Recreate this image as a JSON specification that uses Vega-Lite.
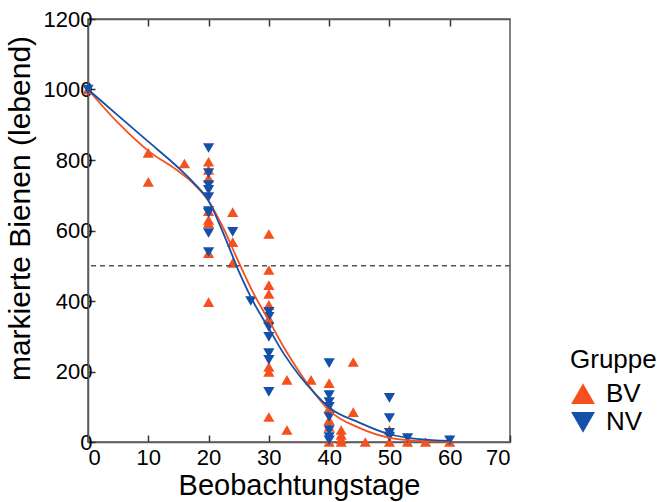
{
  "$schema": "https://vega.github.io/schema/vega-lite/v6.json",
  "autosize": "none",
  "width": 422,
  "height": 423,
  "padding": {"left": 88, "top": 19, "right": 161, "bottom": 60},
  "background": "white",
  "config": {
    "font": "Liberation Sans",
    "view": {"stroke": "#5a5a5a", "strokeWidth": 1.5},
    "axis": {"grid": false, "domainColor": "#5a5a5a", "domainWidth": 1.5, "tickColor": "#333", "tickWidth": 1.5, "labelFont": "Liberation Sans", "titleFont": "Liberation Sans", "labelColor": "#000", "titleColor": "#000", "titleFontWeight": "normal"}
  },
  "datasets": {
    "pts": [
      {"tag": 0, "n": 1000, "Gruppe": "BV"},
      {"tag": 10, "n": 820, "Gruppe": "BV"},
      {"tag": 10, "n": 738, "Gruppe": "BV"},
      {"tag": 16, "n": 790, "Gruppe": "BV"},
      {"tag": 20, "n": 795, "Gruppe": "BV"},
      {"tag": 20, "n": 772, "Gruppe": "BV"},
      {"tag": 20, "n": 749, "Gruppe": "BV"},
      {"tag": 20, "n": 655, "Gruppe": "BV"},
      {"tag": 20, "n": 630, "Gruppe": "BV"},
      {"tag": 20, "n": 621, "Gruppe": "BV"},
      {"tag": 20, "n": 536, "Gruppe": "BV"},
      {"tag": 20, "n": 397, "Gruppe": "BV"},
      {"tag": 24, "n": 652, "Gruppe": "BV"},
      {"tag": 24, "n": 567, "Gruppe": "BV"},
      {"tag": 24, "n": 508, "Gruppe": "BV"},
      {"tag": 30, "n": 590, "Gruppe": "BV"},
      {"tag": 30, "n": 488, "Gruppe": "BV"},
      {"tag": 30, "n": 445, "Gruppe": "BV"},
      {"tag": 30, "n": 420, "Gruppe": "BV"},
      {"tag": 30, "n": 389, "Gruppe": "BV"},
      {"tag": 30, "n": 350, "Gruppe": "BV"},
      {"tag": 30, "n": 213, "Gruppe": "BV"},
      {"tag": 30, "n": 199, "Gruppe": "BV"},
      {"tag": 30, "n": 71, "Gruppe": "BV"},
      {"tag": 33, "n": 176, "Gruppe": "BV"},
      {"tag": 33, "n": 34, "Gruppe": "BV"},
      {"tag": 37, "n": 176, "Gruppe": "BV"},
      {"tag": 40, "n": 167, "Gruppe": "BV"},
      {"tag": 40, "n": 96, "Gruppe": "BV"},
      {"tag": 40, "n": 62, "Gruppe": "BV"},
      {"tag": 40, "n": 43, "Gruppe": "BV"},
      {"tag": 40, "n": 0, "Gruppe": "BV"},
      {"tag": 42, "n": 34, "Gruppe": "BV"},
      {"tag": 42, "n": 20, "Gruppe": "BV"},
      {"tag": 42, "n": 8, "Gruppe": "BV"},
      {"tag": 42, "n": 0, "Gruppe": "BV"},
      {"tag": 44, "n": 227, "Gruppe": "BV"},
      {"tag": 44, "n": 85, "Gruppe": "BV"},
      {"tag": 46, "n": 0, "Gruppe": "BV"},
      {"tag": 50, "n": 34, "Gruppe": "BV"},
      {"tag": 50, "n": 0, "Gruppe": "BV"},
      {"tag": 53, "n": 0, "Gruppe": "BV"},
      {"tag": 56, "n": 0, "Gruppe": "BV"},
      {"tag": 60, "n": 0, "Gruppe": "BV"},
      {"tag": 0, "n": 1000, "Gruppe": "NV"},
      {"tag": 20, "n": 834, "Gruppe": "NV"},
      {"tag": 20, "n": 763, "Gruppe": "NV"},
      {"tag": 20, "n": 729, "Gruppe": "NV"},
      {"tag": 20, "n": 715, "Gruppe": "NV"},
      {"tag": 20, "n": 695, "Gruppe": "NV"},
      {"tag": 20, "n": 655, "Gruppe": "NV"},
      {"tag": 20, "n": 650, "Gruppe": "NV"},
      {"tag": 20, "n": 593, "Gruppe": "NV"},
      {"tag": 20, "n": 539, "Gruppe": "NV"},
      {"tag": 24, "n": 596, "Gruppe": "NV"},
      {"tag": 27, "n": 400, "Gruppe": "NV"},
      {"tag": 30, "n": 369, "Gruppe": "NV"},
      {"tag": 30, "n": 355, "Gruppe": "NV"},
      {"tag": 30, "n": 326, "Gruppe": "NV"},
      {"tag": 30, "n": 298, "Gruppe": "NV"},
      {"tag": 30, "n": 252, "Gruppe": "NV"},
      {"tag": 30, "n": 233, "Gruppe": "NV"},
      {"tag": 30, "n": 142, "Gruppe": "NV"},
      {"tag": 40, "n": 224, "Gruppe": "NV"},
      {"tag": 40, "n": 133, "Gruppe": "NV"},
      {"tag": 40, "n": 113, "Gruppe": "NV"},
      {"tag": 40, "n": 100, "Gruppe": "NV"},
      {"tag": 40, "n": 71, "Gruppe": "NV"},
      {"tag": 40, "n": 34, "Gruppe": "NV"},
      {"tag": 40, "n": 14, "Gruppe": "NV"},
      {"tag": 40, "n": 5, "Gruppe": "NV"},
      {"tag": 50, "n": 125, "Gruppe": "NV"},
      {"tag": 50, "n": 68, "Gruppe": "NV"},
      {"tag": 50, "n": 26, "Gruppe": "NV"},
      {"tag": 50, "n": 15, "Gruppe": "NV"},
      {"tag": 53, "n": 11, "Gruppe": "NV"},
      {"tag": 60, "n": 5, "Gruppe": "NV"}
    ],
    "fit": [
      {"tag": 0, "n": 1000, "Gruppe": "BV"},
      {"tag": 5, "n": 905, "Gruppe": "BV"},
      {"tag": 10, "n": 826, "Gruppe": "BV"},
      {"tag": 15, "n": 768, "Gruppe": "BV"},
      {"tag": 17.5, "n": 733, "Gruppe": "BV"},
      {"tag": 20, "n": 684, "Gruppe": "BV"},
      {"tag": 22.5, "n": 605, "Gruppe": "BV"},
      {"tag": 25, "n": 510, "Gruppe": "BV"},
      {"tag": 27.5, "n": 420, "Gruppe": "BV"},
      {"tag": 30, "n": 345, "Gruppe": "BV"},
      {"tag": 32.5, "n": 268, "Gruppe": "BV"},
      {"tag": 35, "n": 200, "Gruppe": "BV"},
      {"tag": 37.5, "n": 140, "Gruppe": "BV"},
      {"tag": 40, "n": 90, "Gruppe": "BV"},
      {"tag": 45, "n": 40, "Gruppe": "BV"},
      {"tag": 50, "n": 12, "Gruppe": "BV"},
      {"tag": 55, "n": 3, "Gruppe": "BV"},
      {"tag": 60, "n": 0, "Gruppe": "BV"},
      {"tag": 0, "n": 1000, "Gruppe": "NV"},
      {"tag": 5, "n": 926, "Gruppe": "NV"},
      {"tag": 10, "n": 852, "Gruppe": "NV"},
      {"tag": 15, "n": 778, "Gruppe": "NV"},
      {"tag": 17.5, "n": 736, "Gruppe": "NV"},
      {"tag": 20, "n": 684, "Gruppe": "NV"},
      {"tag": 22.5, "n": 590, "Gruppe": "NV"},
      {"tag": 25, "n": 485, "Gruppe": "NV"},
      {"tag": 27.5, "n": 395, "Gruppe": "NV"},
      {"tag": 30, "n": 322, "Gruppe": "NV"},
      {"tag": 32.5, "n": 250, "Gruppe": "NV"},
      {"tag": 35, "n": 190, "Gruppe": "NV"},
      {"tag": 37.5, "n": 140, "Gruppe": "NV"},
      {"tag": 40, "n": 98, "Gruppe": "NV"},
      {"tag": 45, "n": 55, "Gruppe": "NV"},
      {"tag": 50, "n": 22, "Gruppe": "NV"},
      {"tag": 55, "n": 8, "Gruppe": "NV"},
      {"tag": 60, "n": 3, "Gruppe": "NV"}
    ],
    "ref": [{"n": 500}]
  },
  "layer": [
    {
      "data": {"name": "pts"},
      "mark": {"type": "point", "filled": true, "opacity": 1, "size": 125},
      "encoding": {
        "x": {"field": "tag", "type": "quantitative", "scale": {"domain": [0, 70], "nice": false},
          "axis": {"orient": "bottom", "values": [0, 10, 20, 30, 40, 50, 60, 70], "format": "d", "title": "Beobachtungstage", "labelFontSize": 22, "titleFontSize": 29, "tickSize": -7, "labelPadding": 12, "titlePadding": 3}},
        "y": {"field": "n", "type": "quantitative", "scale": {"domain": [0, 1200], "nice": false},
          "axis": {"values": [0, 200, 400, 600, 800, 1000, 1200], "format": "d", "title": "markierte Bienen (lebend)", "labelFontSize": 22, "titleFontSize": 30, "tickSize": -7, "labelPadding": 3, "titlePadding": 8, "titleY": 189}},
        "color": {"field": "Gruppe", "type": "nominal", "scale": {"domain": ["BV", "NV"], "range": ["#F4511E", "#1450A8"]},
          "legend": {"orient": "none", "legendX": 482, "legendY": 328, "title": "Gruppe", "titleFontSize": 26, "titleFontWeight": "normal", "titleColor": "#000", "labelFontSize": 26, "labelColor": "#000", "symbolSize": 450, "rowPadding": 2, "titlePadding": 8, "labelOffset": 10}},
        "shape": {"field": "Gruppe", "type": "nominal", "scale": {"domain": ["BV", "NV"], "range": ["triangle-up", "triangle-down"]}}
      }
    },
    {
      "data": {"name": "ref"},
      "mark": {"type": "rule", "color": "#555", "strokeDash": [5, 4], "strokeWidth": 1.3},
      "encoding": {"y": {"field": "n", "type": "quantitative"}}
    },
    {
      "data": {"name": "fit"},
      "mark": {"type": "line", "interpolate": "monotone", "strokeWidth": 1.8},
      "encoding": {
        "x": {"field": "tag", "type": "quantitative", "axis": null},
        "y": {"field": "n", "type": "quantitative"},
        "color": {"field": "Gruppe", "type": "nominal", "scale": {"domain": ["BV", "NV"], "range": ["#F4511E", "#1450A8"]}, "legend": null}
      }
    },
    {
      "data": {"values": [{"t": 10}, {"t": 20}, {"t": 30}, {"t": 40}, {"t": 50}, {"t": 60}]},
      "mark": {"type": "point", "opacity": 0},
      "encoding": {
        "x": {"field": "t", "type": "quantitative", "axis": {"orient": "top", "values": [10, 20, 30, 40, 50, 60], "labels": false, "title": null, "tickSize": -7}}
      }
    }
  ],
  "resolve": {"axis": {"x": "independent"}}
}
